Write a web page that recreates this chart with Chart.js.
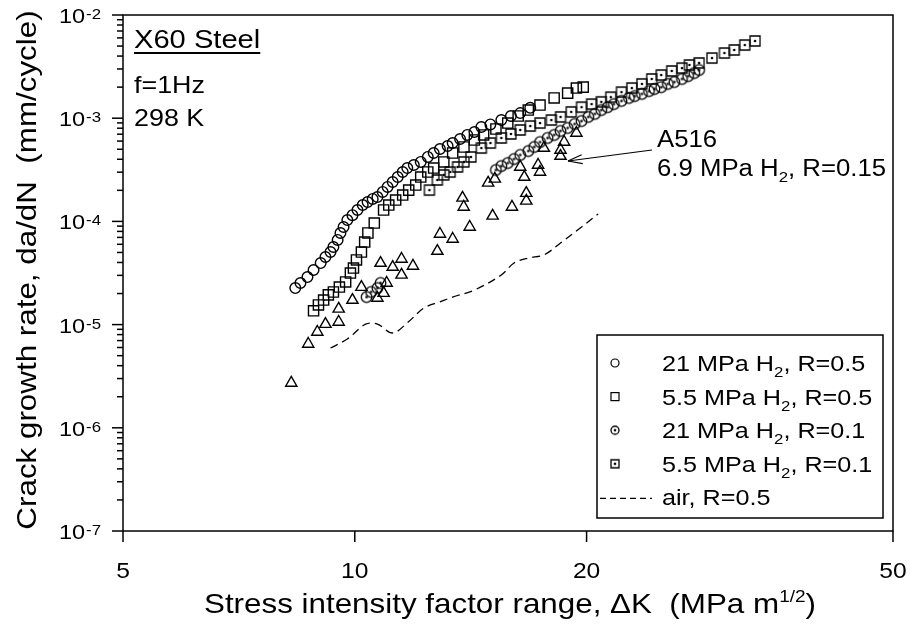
<!DOCTYPE html>
<html>
<head>
<meta charset="utf-8">
<script src="https://cdn.jsdelivr.net/npm/chart.js@4.4.0/dist/chart.umd.min.js"></script>
<style>
  html, body { margin: 0; padding: 0; background: #fff; }
</style>
</head>
<body>
<canvas id="fcgr" width="911" height="624"></canvas>
<script>
// axis ticks
const xTickValues = [5, 10, 20, 50];
const yTickExps = [-7, -6, -5, -4, -3, -2];

// [deltaK (MPa m^1/2), da/dN (mm/cycle)]
const h21R05 = [[8.37,2.26e-5],[8.50,2.53e-5],[8.68,2.89e-5],[8.84,3.38e-5],[9.03,3.95e-5],[9.16,4.52e-5],
  [9.30,5.05e-5],[9.38,5.65e-5],[9.50,6.61e-5],[9.58,7.72e-5],[9.67,8.83e-5],[9.78,1.03e-4],[9.93,1.15e-4],
  [10.08,1.29e-4],[10.24,1.44e-4],[10.39,1.54e-4],[10.55,1.65e-4],[10.7,1.72e-4],[10.87,1.93e-4],[11.03,2.16e-4],
  [11.2,2.41e-4],[11.37,2.69e-4],[11.54,3.01e-4],[11.7,3.29e-4],[11.93,3.52e-4],[12.18,3.77e-4],[12.44,4.21e-4],
  [12.66,4.60e-4],[12.9,5.03e-4],[13.2,5.38e-4],[13.4,5.75e-4],[13.7,6.29e-4],[14.0,6.88e-4],[14.3,7.35e-4],
  [14.6,8.22e-4],[15.0,8.7e-4],[15.5,9.6e-4],[15.95,1.05e-3],[16.4,1.12e-3],[16.9,1.26e-3]];

const h55R05 = [[8.84,1.36e-5],[8.97,1.55e-5],[9.11,1.73e-5],[9.24,1.94e-5],[9.38,2.07e-5],[9.55,2.31e-5],
  [9.73,2.59e-5],[9.87,3.16e-5],[9.96,3.53e-5],[10.05,4.23e-5],[10.2,5.05e-5],[10.3,6.31e-5],[10.4,7.72e-5],
  [10.6,9.64e-5],[10.9,1.29e-4],[11.07,1.44e-4],[11.3,1.61e-4],[11.54,1.80e-4],[11.75,2.01e-4],[12.0,2.25e-4],
  [12.18,2.69e-4],[12.44,3.01e-4],[12.66,3.29e-4],[13.05,3.77e-4],[13.4,4.60e-4],[13.86,5.26e-4],[14.3,6.15e-4],
  [14.7,6.88e-4],[15.25,7.86e-4],[15.8,8.98e-4],[16.3,1.05e-3],[16.8,1.20e-3],[17.4,1.34e-3],[18.15,1.57e-3],
  [18.9,1.75e-3],[19.4,1.96e-3],[19.8,2.0e-3]];

const h21R01 = [[10.36,1.85e-5],[10.5,2.07e-5],[10.7,2.26e-5],[10.8,2.53e-5],
  [15.25,3.15e-4],[15.5,3.44e-4],[15.8,3.68e-4],[16.1,4.02e-4],[16.4,4.40e-4],[16.8,4.81e-4],[17.1,5.26e-4],
  [17.4,5.88e-4],[17.8,6.43e-4],[18.15,6.88e-4],[18.5,7.52e-4],[18.9,8.04e-4],[19.3,8.79e-4],[19.7,9.39e-4],
  [20.1,1.03e-3],[20.5,1.10e-3],[20.9,1.20e-3],[21.3,1.28e-3],[21.7,1.37e-3],[22.2,1.47e-3],[22.7,1.57e-3],
  [23.1,1.64e-3],[23.6,1.72e-3],[24.1,1.83e-3],[24.5,1.92e-3],[25.0,2.0e-3],[25.5,2.15e-3],[26.0,2.24e-3],
  [26.6,2.40e-3],[27.1,2.56e-3],[27.6,2.74e-3],[28.0,2.93e-3]];

const h55R01 = [[12.5,2.01e-4],[12.8,2.52e-4],[13.05,2.82e-4],[13.3,3.01e-4],[13.6,3.37e-4],[13.86,3.77e-4],
  [14.15,4.21e-4],[14.6,5.14e-4],[15.0,5.75e-4],[15.5,6.43e-4],[15.95,7.03e-4],[16.4,7.69e-4],[16.9,8.40e-4],
  [17.4,8.98e-4],[18.0,9.6e-4],[18.5,1.03e-3],[19.1,1.15e-3],[19.7,1.28e-3],[20.3,1.37e-3],[20.9,1.44e-3],
  [21.5,1.60e-3],[22.2,1.79e-3],[22.9,1.96e-3],[23.6,2.15e-3],[24.3,2.40e-3],[25.0,2.62e-3],[25.8,2.87e-3],
  [26.6,3.06e-3],[27.2,3.28e-3],[28.0,3.43e-3],[29.1,3.83e-3],[30.2,4.28e-3],[31.1,4.58e-3],[32.1,5.12e-3],
  [33.1,5.60e-3]];

const a516 = [[8.27,2.72e-6],[8.70,6.49e-6],[8.94,8.48e-6],[9.16,1.01e-5],[9.53,1.06e-5],[9.53,1.42e-5],
  [9.93,1.73e-5],[10.2,2.31e-5],[10.7,1.81e-5],[10.9,2.02e-5],[11.0,2.53e-5],[10.8,3.95e-5],[11.2,3.61e-5],
  [11.5,4.32e-5],[11.5,3.03e-5],[11.9,3.70e-5],[12.8,5.16e-5],[12.9,7.55e-5],[13.4,6.75e-5],[13.8,1.69e-4],
  [13.85,1.38e-4],[14.1,8.83e-5],[15.1,1.13e-4],[16.0,1.38e-4],[14.9,2.36e-4],[15.2,2.58e-4],[16.4,3.37e-4],
  [16.6,2.69e-4],[16.7,1.88e-4],[16.7,1.58e-4],[17.3,3.52e-4],[17.4,3.01e-4],[17.6,5.14e-4],[18.5,4.92e-4],
  [18.5,4.30e-4],[18.7,5.88e-4],[19.4,7.19e-4]];

const airR05 = [[9.30,5.93e-6],[9.78,7.25e-6],[10.33,1.01e-5],[10.7,1.01e-5],[11.2,8.29e-6],[11.7,1.04e-5],
  [12.3,1.45e-5],[12.9,1.66e-5],[13.4,1.85e-5],[14.3,2.16e-5],[15.5,3.03e-5],[16.1,3.95e-5],[16.8,4.42e-5],
  [17.6,4.73e-5],[18.5,6.18e-5],[19.7,8.83e-5],[20.7,1.18e-4]];

const STRETCH = 1.12;
const FONT = '"Liberation Sans", Arial, Helvetica, sans-serif';

function toXY(arr) {
  return arr.map(p => ({ x: p[0], y: p[1] }));
}

function dottedMarker(kind, r) {
  const s = Math.ceil(r * 2 + 4);
  const c = document.createElement("canvas");
  c.width = s;
  c.height = s;
  const g = c.getContext("2d");
  const m = s / 2;
  g.strokeStyle = "#000";
  g.fillStyle = "#000";
  g.lineWidth = 1.3;
  g.beginPath();
  if (kind === "circle") {
    g.arc(m, m, r, 0, Math.PI * 2);
  } else {
    g.rect(m - r, m - r, r * 2, r * 2);
  }
  g.stroke();
  g.beginPath();
  g.arc(m, m, 1.3, 0, Math.PI * 2);
  g.fill();
  return c;
}

// text with optional sub/superscript parts: [text, size, dy]
function rich(ctx, parts, x, y, align) {
  let total = 0;
  const widths = parts.map(p => {
    ctx.font = p[1] + "px " + FONT;
    const w = ctx.measureText(p[0]).width * STRETCH;
    total += w;
    return w;
  });
  let cx = x;
  if (align === "center") cx = x - total / 2;
  if (align === "right") cx = x - total;
  parts.forEach((p, i) => {
    ctx.save();
    ctx.font = p[1] + "px " + FONT;
    ctx.fillStyle = "#000";
    ctx.textAlign = "left";
    ctx.textBaseline = "alphabetic";
    ctx.translate(cx, y + (p[2] || 0));
    ctx.scale(STRETCH, 1);
    ctx.fillText(p[0], 0, 0);
    ctx.restore();
    cx += widths[i];
  });
  return total;
}

function subParts(label, size) {
  const bits = label.split("₂");
  if (bits.length === 1) return [[label, size, 0]];
  return [[bits[0], size, 0], ["2", Math.round(size * 0.66), 6], [bits[1], size, 0]];
}

function line(ctx, x1, y1, x2, y2) {
  ctx.beginPath();
  ctx.moveTo(x1, y1);
  ctx.lineTo(x2, y2);
  ctx.stroke();
}

const axesPlugin = {
  id: "axesDecor",
  afterDraw(chart) {
    const { ctx, chartArea: a, scales: { x, y } } = chart;
    ctx.save();
    ctx.strokeStyle = "#000";
    ctx.lineWidth = 1.5;
    ctx.strokeRect(a.left, a.top, a.right - a.left, a.bottom - a.top);

    xTickValues.forEach(v => {
      const px = x.getPixelForValue(v);
      line(ctx, px, a.bottom, px, a.bottom + 11);
      rich(ctx, [[String(v), 22, 0]], px, a.bottom + 47, "center");
    });

    yTickExps.forEach(e => {
      const dec = Math.pow(10, e);
      const py = y.getPixelForValue(dec);
      line(ctx, a.left - 11, py, a.left, py);
      if (e < -2) {
        for (let m = 2; m <= 9; m++) {
          const pm = y.getPixelForValue(m * dec);
          line(ctx, a.left - 6, pm, a.left, pm);
        }
      }
      ctx.font = "15px " + FONT;
      const supW = ctx.measureText(String(e)).width * STRETCH;
      rich(ctx, [[String(e), 15, 0]], a.left - 22 - supW, py + 4, "left");
      rich(ctx, [["10", 21, 0]], a.left - 23 - supW, py + 8, "right");
    });

    // axis titles
    rich(ctx, [["Stress intensity factor range, \u0394K  (MPa m", 28, 0], ["1/2", 17, -11], [")", 28, 0]],
      (a.left + a.right) / 2 + 2, 613, "center");
    ctx.save();
    ctx.translate(36, 270);
    ctx.rotate(-Math.PI / 2);
    rich(ctx, [["Crack growth rate, da/dN  (mm/cycle)", 28, 0]], 0, 0, "center");
    ctx.restore();

    // inset text
    const w = rich(ctx, [["X60 Steel", 26, 0]], a.left + 11, 48, "left");
    ctx.lineWidth = 2;
    line(ctx, a.left + 11, 53, a.left + 11 + w, 53);
    rich(ctx, [["f=1Hz", 24, 0]], a.left + 11, 93, "left");
    rich(ctx, [["298 K", 24, 0]], a.left + 11, 126, "left");

    // A516 annotation with arrow pointing at the triangles
    rich(ctx, [["A516", 23, 0]], 657, 147, "left");
    rich(ctx, subParts("6.9 MPa H₂, R=0.15", 23), 657, 176, "left");
    ctx.lineWidth = 1.2;
    const tipX = 568, tipY = 161, tailX = 652, tailY = 150;
    line(ctx, tailX, tailY, tipX, tipY);
    const ang = Math.atan2(tailY - tipY, tailX - tipX);
    line(ctx, tipX, tipY, tipX + 15 * Math.cos(ang - 0.3), tipY + 15 * Math.sin(ang - 0.3));
    line(ctx, tipX, tipY, tipX + 15 * Math.cos(ang + 0.3), tipY + 15 * Math.sin(ang + 0.3));

    // legend box
    const bl = a.right - 296, bt = a.top + 320, br = a.right - 10, bb = a.bottom - 13;
    ctx.lineWidth = 1.5;
    ctx.fillStyle = "#fff";
    ctx.fillRect(bl, bt, br - bl, bb - bt);
    ctx.strokeRect(bl, bt, br - bl, bb - bt);
    const items = chart.data.datasets.filter(d => d.legendKind);
    items.forEach((d, i) => {
      const base = bt + 36 + i * 33.6;
      const mx = bl + 18, my = base - 8;
      ctx.strokeStyle = "#000";
      ctx.lineWidth = 1.2;
      if (d.legendKind === "dash") {
        ctx.setLineDash([6, 4]);
        line(ctx, bl + 3, my + 1, bl + 55, my + 1);
        ctx.setLineDash([]);
      } else if (d.legendKind === "circle") {
        ctx.beginPath();
        ctx.arc(mx, my, 4, 0, Math.PI * 2);
        ctx.stroke();
      } else if (d.legendKind === "rect") {
        ctx.strokeRect(mx - 4, my - 4, 8, 8);
      } else {
        const img = dottedMarker(d.legendKind === "dotCircle" ? "circle" : "rect", 4);
        ctx.drawImage(img, mx - img.width / 2, my - img.height / 2);
      }
      rich(ctx, subParts(d.label, 22.5), bl + 65, base, "left");
    });
    ctx.restore();
  }
};

const pointBase = {
  borderColor: "#000",
  backgroundColor: "rgba(0,0,0,0)",
  borderWidth: 1.4,
  showLine: false
};

new Chart(document.getElementById("fcgr"), {
  type: "scatter",
  data: {
    datasets: [
      Object.assign({ label: "6.9 MPa H₂, R=0.15 (A516)", data: toXY(a516), pointStyle: "triangle", pointRadius: 6.5 }, pointBase),
      Object.assign({ label: "21 MPa H₂, R=0.5", legendKind: "circle", data: toXY(h21R05), pointStyle: "circle", pointRadius: 5.3 }, pointBase),
      Object.assign({ label: "5.5 MPa H₂, R=0.5", legendKind: "rect", data: toXY(h55R05), pointStyle: "rect", pointRadius: 7.2 }, pointBase),
      Object.assign({ label: "21 MPa H₂, R=0.1", legendKind: "dotCircle", data: toXY(h21R01), pointStyle: dottedMarker("circle", 5.3), pointRadius: 5 }, pointBase),
      Object.assign({ label: "5.5 MPa H₂, R=0.1", legendKind: "dotRect", data: toXY(h55R01), pointStyle: dottedMarker("rect", 5), pointRadius: 5 }, pointBase),
      {
        label: "air, R=0.5",
        legendKind: "dash",
        data: toXY(airR05),
        showLine: true,
        borderColor: "#000",
        borderWidth: 1.3,
        borderDash: [8, 5],
        pointRadius: 0,
        tension: 0.35,
        fill: false
      }
    ]
  },
  options: {
    responsive: false,
    animation: false,
    layout: {
      padding: { left: 123, right: 18, top: 15, bottom: 93 }
    },
    plugins: {
      legend: { display: false },
      tooltip: { enabled: false }
    },
    scales: {
      x: { type: "logarithmic", min: 5, max: 50, display: false },
      y: { type: "logarithmic", min: 1e-7, max: 1e-2, display: false }
    }
  },
  plugins: [axesPlugin]
});
</script>
</body>
</html>
